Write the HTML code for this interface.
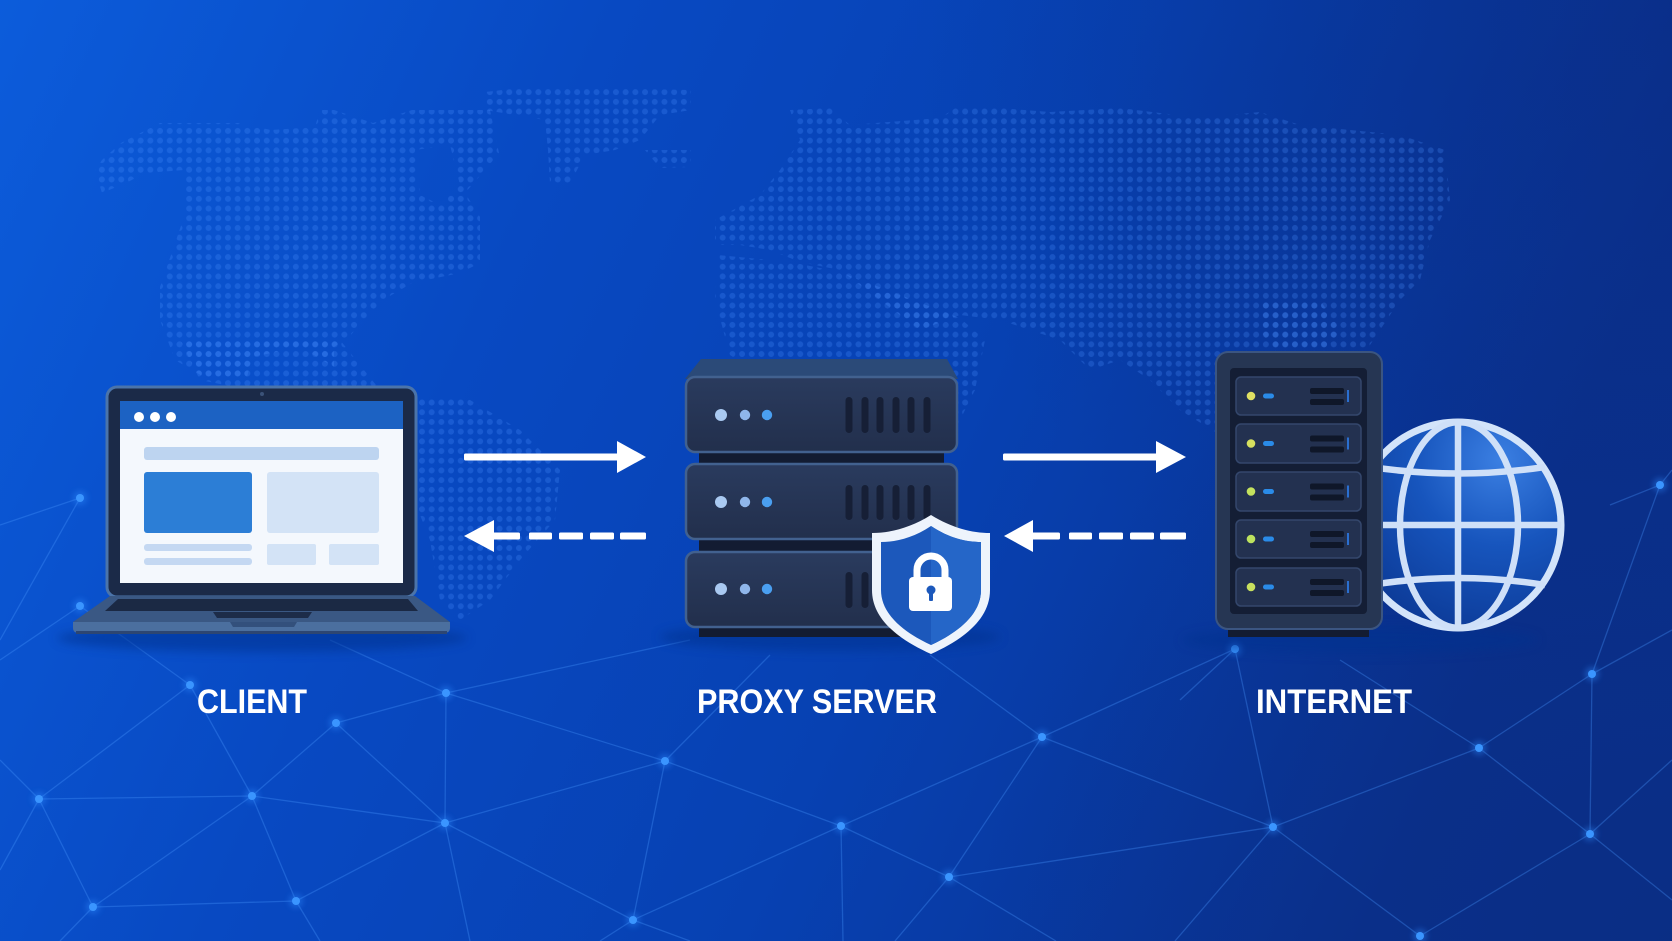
<!DOCTYPE html>
<html>
<head>
<meta charset="utf-8">
<style>
  html,body{margin:0;padding:0;background:#0847bd;}
  body{width:1672px;height:941px;overflow:hidden;}
  svg{display:block;}
</style>
</head>
<body>
<svg width="1672" height="941" viewBox="0 0 1672 941" xmlns="http://www.w3.org/2000/svg">
  <defs>
    <linearGradient id="bg" x1="0" y1="0" x2="1" y2="0.25">
      <stop offset="0" stop-color="#0c5cdb"/>
      <stop offset="0.35" stop-color="#0849c2"/>
      <stop offset="0.65" stop-color="#0741b2"/>
      <stop offset="1" stop-color="#0a318f"/>
    </linearGradient>
    <radialGradient id="darkTR" cx="1672" cy="0" r="760" gradientUnits="userSpaceOnUse">
      <stop offset="0" stop-color="#0a2a80" stop-opacity="0.5"/>
      <stop offset="1" stop-color="#0a2a80" stop-opacity="0"/>
    </radialGradient>
    <radialGradient id="darkBR" cx="1672" cy="941" r="700" gradientUnits="userSpaceOnUse">
      <stop offset="0" stop-color="#0a2a7a" stop-opacity="0.5"/>
      <stop offset="1" stop-color="#0a2a7a" stop-opacity="0"/>
    </radialGradient>
    <pattern id="dots" width="9.7" height="9.7" patternUnits="userSpaceOnUse">
      <circle cx="4.85" cy="4.85" r="3" fill="#4a90ff" fill-opacity="0.26"/>
    </pattern>
    <filter id="glow" x="-2" y="-2" width="5" height="5">
      <feGaussianBlur stdDeviation="3"/>
    </filter>
    <filter id="soft" x="-0.2" y="-1" width="1.4" height="3">
      <feGaussianBlur stdDeviation="5"/>
    </filter>
    <radialGradient id="globeFill" cx="1500" cy="460" r="190" gradientUnits="userSpaceOnUse">
      <stop offset="0" stop-color="#3b7fe2"/>
      <stop offset="0.45" stop-color="#1755bd"/>
      <stop offset="1" stop-color="#0b3894"/>
    </radialGradient>
    <linearGradient id="unit" x1="0" y1="0" x2="0" y2="1">
      <stop offset="0" stop-color="#2a3b5e"/>
      <stop offset="1" stop-color="#222f4c"/>
    </linearGradient>
    <clipPath id="rightHalf"><rect x="931" y="500" width="80" height="170"/></clipPath>
  </defs>

  <rect x="0" y="0" width="1672" height="941" fill="url(#bg)"/>
  <rect x="0" y="0" width="1672" height="941" fill="url(#darkTR)"/>
  <rect x="0" y="0" width="1672" height="941" fill="url(#darkBR)"/>

  <g fill="url(#dots)">
    <path fill-rule="evenodd" d="M95,170 L102,160 L121,143 L160,123 L238,123 L271,130 L315,127 L320,110 L334,110 L373,123 L412,110 L490,110 L499,153 L485,170 L465,193 L480,217 L480,263 L460,273 L412,283 L383,300 L364,320 L349,337 L334,347 L334,367 L300,347 L252,357 L247,377 L204,377 L175,360 L160,320 L160,287 L184,217 L184,170 L145,173 L126,183 L102,193 Z M415,150 L450,145 L460,185 L440,205 L420,195 Z"/>
    <path d="M180,340 L340,340 L380,390 L330,400 L250,390 L200,380 Z"/>
    <path d="M395,395 L470,400 L520,430 L560,470 L555,520 L520,560 L490,600 L460,620 L440,600 L430,540 L410,490 L395,440 Z"/>
    <path d="M485,92 L520,88 L600,88 L691,90 L691,110 L660,115 L640,140 L615,150 L585,155 L570,183 L550,183 L548,150 L545,120 L485,110 Z"/>
    <path d="M645,150 L691,150 L691,167 L660,168 Z"/>
    <path d="M790,110 L830,108 L850,125 L940,118 L960,105 L1050,112 L1120,108 L1200,118 L1260,112 L1300,125 L1400,135 L1445,150 L1450,200 L1430,240 L1420,280 L1400,300 L1380,330 L1360,360 L1330,390 L1300,420 L1260,440 L1220,435 L1180,410 L1150,380 L1120,360 L1090,370 L1060,340 L1000,320 L960,315 L920,330 L880,300 L840,270 L800,262 L770,250 L740,245 L715,245 L715,220 L760,195 L780,170 L800,140 Z"/>
    <path d="M718,255 L790,262 L840,272 L900,295 L960,318 L985,340 L975,390 L955,430 L930,460 L880,460 L860,420 L820,385 L760,375 L730,355 L715,300 Z"/>
    <path d="M1260,300 L1320,300 L1340,330 L1320,360 L1280,360 L1260,330 Z"/>
  </g>

  <g stroke="#4a98ff" stroke-opacity="0.33" stroke-width="1.3" fill="none">
    <line x1="80" y1="498" x2="0" y2="525"/>
    <line x1="80" y1="498" x2="0" y2="640"/>
    <line x1="80" y1="606" x2="0" y2="660"/>
    <line x1="80" y1="606" x2="190" y2="685"/>
    <line x1="190" y1="685" x2="39" y2="799"/>
    <line x1="190" y1="685" x2="252" y2="796"/>
    <line x1="39" y1="799" x2="252" y2="796"/>
    <line x1="39" y1="799" x2="0" y2="760"/>
    <line x1="39" y1="799" x2="0" y2="870"/>
    <line x1="39" y1="799" x2="93" y2="907"/>
    <line x1="252" y1="796" x2="445" y2="823"/>
    <line x1="252" y1="796" x2="336" y2="723"/>
    <line x1="252" y1="796" x2="93" y2="907"/>
    <line x1="252" y1="796" x2="296" y2="901"/>
    <line x1="336" y1="723" x2="446" y2="693"/>
    <line x1="336" y1="723" x2="445" y2="823"/>
    <line x1="446" y1="693" x2="445" y2="823"/>
    <line x1="446" y1="693" x2="665" y2="761"/>
    <line x1="446" y1="693" x2="690" y2="640"/>
    <line x1="446" y1="693" x2="330" y2="640"/>
    <line x1="445" y1="823" x2="665" y2="761"/>
    <line x1="445" y1="823" x2="296" y2="901"/>
    <line x1="445" y1="823" x2="633" y2="920"/>
    <line x1="445" y1="823" x2="470" y2="941"/>
    <line x1="665" y1="761" x2="841" y2="826"/>
    <line x1="665" y1="761" x2="633" y2="920"/>
    <line x1="665" y1="761" x2="770" y2="655"/>
    <line x1="841" y1="826" x2="633" y2="920"/>
    <line x1="841" y1="826" x2="949" y2="877"/>
    <line x1="841" y1="826" x2="1042" y2="737"/>
    <line x1="841" y1="826" x2="843" y2="941"/>
    <line x1="1042" y1="737" x2="949" y2="877"/>
    <line x1="1042" y1="737" x2="1273" y2="827"/>
    <line x1="1042" y1="737" x2="1235" y2="649"/>
    <line x1="1042" y1="737" x2="930" y2="655"/>
    <line x1="949" y1="877" x2="1273" y2="827"/>
    <line x1="949" y1="877" x2="1056" y2="941"/>
    <line x1="949" y1="877" x2="895" y2="941"/>
    <line x1="1273" y1="827" x2="1479" y2="748"/>
    <line x1="1273" y1="827" x2="1235" y2="649"/>
    <line x1="1273" y1="827" x2="1420" y2="936"/>
    <line x1="1273" y1="827" x2="1175" y2="941"/>
    <line x1="1479" y1="748" x2="1592" y2="674"/>
    <line x1="1479" y1="748" x2="1590" y2="834"/>
    <line x1="1479" y1="748" x2="1340" y2="660"/>
    <line x1="1592" y1="674" x2="1590" y2="834"/>
    <line x1="1592" y1="674" x2="1660" y2="485"/>
    <line x1="1592" y1="674" x2="1672" y2="630"/>
    <line x1="1590" y1="834" x2="1420" y2="936"/>
    <line x1="1590" y1="834" x2="1672" y2="900"/>
    <line x1="1590" y1="834" x2="1672" y2="760"/>
    <line x1="93" y1="907" x2="296" y2="901"/>
    <line x1="93" y1="907" x2="60" y2="941"/>
    <line x1="296" y1="901" x2="320" y2="941"/>
    <line x1="633" y1="920" x2="600" y2="941"/>
    <line x1="633" y1="920" x2="690" y2="941"/>
    <line x1="1660" y1="485" x2="1672" y2="470"/>
    <line x1="1660" y1="485" x2="1610" y2="505"/>
    <line x1="1235" y1="649" x2="1180" y2="700"/>
  </g>
  <g fill="#2f8bff" opacity="0.4" filter="url(#glow)">
    <circle cx="80" cy="498" r="7"/><circle cx="80" cy="606" r="7"/><circle cx="190" cy="685" r="7"/>
    <circle cx="446" cy="693" r="7"/><circle cx="336" cy="723" r="7"/><circle cx="39" cy="799" r="7"/>
    <circle cx="252" cy="796" r="7"/><circle cx="445" cy="823" r="7"/><circle cx="665" cy="761" r="7"/>
    <circle cx="841" cy="826" r="7"/><circle cx="1042" cy="737" r="7"/><circle cx="949" cy="877" r="7"/>
    <circle cx="1273" cy="827" r="7"/><circle cx="1479" cy="748" r="7"/><circle cx="1592" cy="674" r="7"/>
    <circle cx="1590" cy="834" r="7"/><circle cx="93" cy="907" r="7"/><circle cx="296" cy="901" r="7"/>
    <circle cx="633" cy="920" r="7"/><circle cx="1420" cy="936" r="7"/><circle cx="1235" cy="649" r="7"/>
    <circle cx="1660" cy="485" r="7"/>
  </g>
  <g fill="#3a95ff">
    <circle cx="80" cy="498" r="4"/><circle cx="80" cy="606" r="4"/><circle cx="190" cy="685" r="4"/>
    <circle cx="446" cy="693" r="4"/><circle cx="336" cy="723" r="4"/><circle cx="39" cy="799" r="4"/>
    <circle cx="252" cy="796" r="4"/><circle cx="445" cy="823" r="4"/><circle cx="665" cy="761" r="4"/>
    <circle cx="841" cy="826" r="4"/><circle cx="1042" cy="737" r="4"/><circle cx="949" cy="877" r="4"/>
    <circle cx="1273" cy="827" r="4"/><circle cx="1479" cy="748" r="4"/><circle cx="1592" cy="674" r="4"/>
    <circle cx="1590" cy="834" r="4"/><circle cx="93" cy="907" r="4"/><circle cx="296" cy="901" r="4"/>
    <circle cx="633" cy="920" r="4"/><circle cx="1420" cy="936" r="4"/><circle cx="1235" cy="649" r="4"/>
    <circle cx="1660" cy="485" r="4"/>
  </g>

  <!-- LAPTOP -->
  <ellipse cx="262" cy="638" rx="205" ry="14" fill="#05308f" opacity="0.55" filter="url(#soft)"/>
  <rect x="107" y="387" width="309" height="210" rx="10" fill="#1b2a48" stroke="#4b74aa" stroke-width="3"/>
  <rect x="120" y="401" width="283" height="182" fill="#f4f8fd"/>
  <rect x="120" y="401" width="283" height="28" fill="#1c62c3"/>
  <circle cx="139" cy="417" r="5" fill="#ffffff"/>
  <circle cx="155" cy="417" r="5" fill="#ffffff"/>
  <circle cx="171" cy="417" r="5" fill="#ffffff"/>
  <circle cx="262" cy="394" r="2" fill="#3b5278"/>
  <rect x="144" y="447" width="235" height="13" rx="3" fill="#bdd4f0"/>
  <rect x="144" y="472" width="108" height="61" rx="3" fill="#2c7ed6"/>
  <rect x="267" y="472" width="112" height="61" rx="3" fill="#d3e3f6"/>
  <rect x="144" y="544" width="108" height="7" rx="3" fill="#c4d8f2"/>
  <rect x="144" y="558" width="108" height="7" rx="3" fill="#c4d8f2"/>
  <rect x="267" y="544" width="49" height="21" rx="2" fill="#d3e3f6"/>
  <rect x="329" y="544" width="50" height="21" rx="2" fill="#d3e3f6"/>
  <polygon points="110,596 415,596 450,622 73,622" fill="#3a5884"/>
  <polygon points="118,599 408,599 418,611 105,611" fill="#1b2944"/>
  <polygon points="213,612 312,612 308,618 217,618" fill="#1d2c49"/>
  <path d="M73,622 L450,622 L450,628 Q450,633 444,633 L79,633 Q73,633 73,628 Z" fill="#4b6f9f"/>
  <rect x="76" y="631" width="371" height="3" fill="#2d4672"/>
  <path d="M230,622 L297,622 L294,627 L233,627 Z" fill="#33507c"/>

  <!-- ARROWS -->
  <g fill="#ffffff">
    <rect x="464" y="453.5" width="158" height="7" rx="1.5"/>
    <polygon points="617,441 646,457 617,473"/>
    <polygon points="464,536 494,520 494,552"/>
    <rect x="490" y="532.5" width="30" height="7" rx="1.5"/>
    <rect x="529" y="532.5" width="23" height="7" rx="1.5"/>
    <rect x="559" y="532.5" width="24" height="7" rx="1.5"/>
    <rect x="590" y="532.5" width="24" height="7" rx="1.5"/>
    <rect x="620" y="532.5" width="26" height="7" rx="1.5"/>
    <rect x="1003" y="453.5" width="158" height="7" rx="1.5"/>
    <polygon points="1156,441 1186,457 1156,473"/>
    <polygon points="1004,536 1033,520 1033,552"/>
    <rect x="1029" y="532.5" width="31" height="7" rx="1.5"/>
    <rect x="1069" y="532.5" width="23" height="7" rx="1.5"/>
    <rect x="1099" y="532.5" width="24" height="7" rx="1.5"/>
    <rect x="1130" y="532.5" width="24" height="7" rx="1.5"/>
    <rect x="1160" y="532.5" width="26" height="7" rx="1.5"/>
  </g>

  <!-- PROXY SERVER -->
  <ellipse cx="830" cy="637" rx="170" ry="14" fill="#05308f" opacity="0.55" filter="url(#soft)"/>
  <polygon points="701,359 947,359 958,379 685,379" fill="#2b4a78"/>
  <rect x="699" y="448" width="245" height="18" fill="#131c32"/>
  <rect x="699" y="535" width="245" height="19" fill="#131c32"/>
  <rect x="699" y="623" width="245" height="14" fill="#131c32"/>
  <g stroke="#42618f" stroke-width="2.5" fill="url(#unit)">
    <rect x="686" y="377" width="271" height="75" rx="9"/>
    <rect x="686" y="464" width="271" height="75" rx="9"/>
    <rect x="686" y="552" width="271" height="75" rx="9"/>
  </g>
  <circle cx="721" cy="415" r="6" fill="#a9c9f1"/>
  <circle cx="745" cy="415" r="5.2" fill="#8fb6ea"/>
  <circle cx="767" cy="415" r="5.2" fill="#4a9ff0"/>
  <circle cx="721" cy="502" r="6" fill="#a9c9f1"/>
  <circle cx="745" cy="502" r="5.2" fill="#8fb6ea"/>
  <circle cx="767" cy="502" r="5.2" fill="#4a9ff0"/>
  <circle cx="721" cy="589" r="6" fill="#a9c9f1"/>
  <circle cx="745" cy="589" r="5.2" fill="#8fb6ea"/>
  <circle cx="767" cy="589" r="5.2" fill="#4a9ff0"/>
  <g fill="#161f36">
    <rect x="845.5" y="397" width="7" height="36" rx="3.5"/>
    <rect x="861.5" y="397" width="7" height="36" rx="3.5"/>
    <rect x="876.5" y="397" width="7" height="36" rx="3.5"/>
    <rect x="892.5" y="397" width="7" height="36" rx="3.5"/>
    <rect x="907.5" y="397" width="7" height="36" rx="3.5"/>
    <rect x="923.5" y="397" width="7" height="36" rx="3.5"/>
    <rect x="845.5" y="485" width="7" height="35" rx="3.5"/>
    <rect x="861.5" y="485" width="7" height="35" rx="3.5"/>
    <rect x="876.5" y="485" width="7" height="35" rx="3.5"/>
    <rect x="892.5" y="485" width="7" height="35" rx="3.5"/>
    <rect x="907.5" y="485" width="7" height="35" rx="3.5"/>
    <rect x="923.5" y="485" width="7" height="35" rx="3.5"/>
    <rect x="845.5" y="572" width="7" height="36" rx="3.5"/>
    <rect x="861.5" y="572" width="7" height="36" rx="3.5"/>
  </g>
  <path d="M931,515 C910,528 890,533 872,533 L872,590 C872,620 900,640 931,654 C962,640 990,620 990,590 L990,533 C972,533 952,528 931,515 Z" fill="#eef4fc"/>
  <path d="M931,526 C913,538 896,542 881,542 L881,590 C881,615 905,633 931,645 C957,633 981,615 981,590 L981,542 C966,542 949,538 931,526 Z" fill="#1c58bb"/>
  <path clip-path="url(#rightHalf)" d="M931,526 C913,538 896,542 881,542 L881,590 C881,615 905,633 931,645 C957,633 981,615 981,590 L981,542 C966,542 949,538 931,526 Z" fill="#2566c8"/>
  <path d="M917,578 V570 A14,14 0 0 1 945,570 V578" fill="none" stroke="#ffffff" stroke-width="7"/>
  <rect x="909" y="577" width="43" height="34" rx="4" fill="#ffffff"/>
  <circle cx="931" cy="590" r="4.5" fill="#1c58bb"/>
  <rect x="929" y="590" width="4" height="11" rx="1" fill="#1c58bb"/>

  <!-- INTERNET -->
  <ellipse cx="1360" cy="640" rx="178" ry="14" fill="#05308f" opacity="0.5" filter="url(#soft)"/>
  <circle cx="1458" cy="525" r="103" fill="url(#globeFill)" stroke="#d3e4fa" stroke-width="7"/>
  <g fill="none" stroke="#cfe0f8" stroke-width="6.5">
    <ellipse cx="1459" cy="525" rx="59" ry="103"/>
    <line x1="1458" y1="422" x2="1458" y2="628"/>
    <line x1="1355" y1="525" x2="1561" y2="525"/>
    <path d="M1371,467 Q1458,480 1545,467"/>
    <path d="M1371,585 Q1458,571 1545,585"/>
  </g>
  <rect x="1228" y="624" width="141" height="13" fill="#131c32"/>
  <rect x="1216" y="352" width="166" height="277" rx="12" fill="#263653" stroke="#3b5581" stroke-width="2"/>
  <rect x="1230" y="368" width="137" height="246" rx="4" fill="#141e35"/>
  <g stroke="#34476c" stroke-width="1.5" fill="#233150">
    <rect x="1236" y="377" width="125" height="38" rx="5"/>
    <rect x="1236" y="424" width="125" height="39" rx="5"/>
    <rect x="1236" y="472" width="125" height="39" rx="5"/>
    <rect x="1236" y="520" width="125" height="38" rx="5"/>
    <rect x="1236" y="568" width="125" height="38" rx="5"/>
  </g>
  <circle cx="1251" cy="396" r="4.3" fill="#dfe063"/>
  <circle cx="1251" cy="443.5" r="4.3" fill="#d6e05f"/>
  <circle cx="1251" cy="491.5" r="4.3" fill="#c4e25e"/>
  <circle cx="1251" cy="539" r="4.3" fill="#bde25e"/>
  <circle cx="1251" cy="587" r="4.3" fill="#c8e05e"/>
  <g fill="#2a8be8">
    <rect x="1263" y="393.5" width="11" height="5" rx="2.5"/>
    <rect x="1263" y="441" width="11" height="5" rx="2.5"/>
    <rect x="1263" y="489" width="11" height="5" rx="2.5"/>
    <rect x="1263" y="536.5" width="11" height="5" rx="2.5"/>
    <rect x="1263" y="584.5" width="11" height="5" rx="2.5"/>
  </g>
  <g fill="#0f1729">
    <rect x="1310" y="388" width="34" height="6" rx="2"/><rect x="1310" y="399" width="34" height="6" rx="2"/>
    <rect x="1310" y="435.5" width="34" height="6" rx="2"/><rect x="1310" y="446.5" width="34" height="6" rx="2"/>
    <rect x="1310" y="483.5" width="34" height="6" rx="2"/><rect x="1310" y="494.5" width="34" height="6" rx="2"/>
    <rect x="1310" y="531" width="34" height="6" rx="2"/><rect x="1310" y="542" width="34" height="6" rx="2"/>
    <rect x="1310" y="579" width="34" height="6" rx="2"/><rect x="1310" y="590" width="34" height="6" rx="2"/>
  </g>
  <g fill="#2a6fd0">
    <rect x="1347" y="390" width="2" height="12"/>
    <rect x="1347" y="437.5" width="2" height="12"/>
    <rect x="1347" y="485.5" width="2" height="12"/>
    <rect x="1347" y="533" width="2" height="12"/>
    <rect x="1347" y="581" width="2" height="12"/>
  </g>

  <!-- LABELS -->
  <g font-family="'Liberation Sans', Arial, sans-serif" font-weight="bold" font-size="34" fill="#ffffff">
    <text x="197" y="713" textLength="110" lengthAdjust="spacingAndGlyphs">CLIENT</text>
    <text x="697" y="713" textLength="240" lengthAdjust="spacingAndGlyphs">PROXY SERVER</text>
    <text x="1256" y="713" textLength="156" lengthAdjust="spacingAndGlyphs">INTERNET</text>
  </g>
</svg>
</body>
</html>
